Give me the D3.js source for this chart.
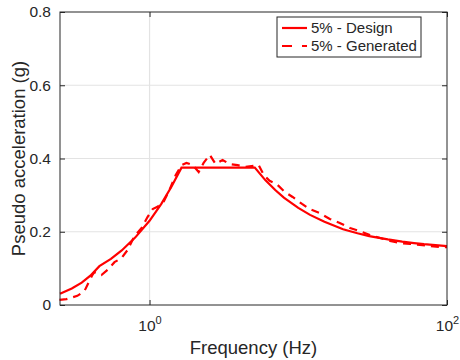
<!DOCTYPE html>
<html lang="en">
<head>
  <meta charset="UTF-8">
  <title>Pseudo acceleration spectrum</title>
  <script src="https://d3js.org/d3.v7.min.js"></script>
  <style>
    body { margin: 0; background: #fff; }
    svg text { font-family: "Liberation Sans", Arial, sans-serif; fill: #262626; }
    .axis .domain { stroke: none; }
    .axis line { stroke: #262626; }
    .axis text { font-size: 15.5px; }
  </style>
</head>
<body>
  <svg id="chart" width="460" height="360"></svg>
  <script>
    // design spectrum (5% damping)
    const designFreq = [0.25, 0.3, 0.35, 0.4, 0.46, 0.55, 0.65, 0.8, 1.0, 1.2, 1.4, 1.64,
                        5.1, 6, 7, 8, 10, 12, 15, 20, 25, 30, 40, 50, 60, 70, 80, 100];
    const designAcc = [0.031, 0.045, 0.061, 0.080, 0.106, 0.126, 0.149, 0.184, 0.230, 0.276, 0.322, 0.375,
                       0.375, 0.341, 0.314, 0.293, 0.265, 0.246, 0.227, 0.207, 0.196, 0.188, 0.179, 0.173, 0.169, 0.166, 0.164, 0.161];

    // spectrum of the generated record
    const genFreq = [0.248, 0.276, 0.327, 0.365, 0.394, 0.413, 0.426, 0.475, 0.522, 0.581, 0.648, 0.711,
                     0.792, 0.884, 0.969, 1.05, 1.13, 1.24, 1.36, 1.50, 1.64, 1.77, 1.95, 2.14, 2.31,
                     2.54, 2.78, 3.10, 3.45, 3.91, 4.43, 5.01, 5.42, 5.86, 6.42, 7.16, 8.10, 9.16,
                     10.6, 11.9, 13.9, 16.3, 19.0, 22.3, 25.9, 30.3, 35.5, 41.4, 48.3, 56.4, 65.8, 76.8, 89.5, 100];
    const genAcc = [0.014, 0.016, 0.025, 0.038, 0.066, 0.082, 0.090, 0.082, 0.096, 0.117, 0.128, 0.150,
                    0.188, 0.210, 0.240, 0.262, 0.268, 0.281, 0.314, 0.355, 0.382, 0.388, 0.382, 0.363, 0.388,
                    0.410, 0.385, 0.396, 0.385, 0.382, 0.377, 0.380, 0.382, 0.355, 0.339, 0.330, 0.309, 0.295,
                    0.276, 0.262, 0.251, 0.235, 0.224, 0.210, 0.202, 0.191, 0.183, 0.175, 0.169, 0.167, 0.164, 0.161, 0.158, 0.158];

    const xTicks = [1, 100];
    const xTickExp = ["0", "2"];
    const yTicks = [0, 0.2, 0.4, 0.6, 0.8];
    const seriesNames = ["5% - Design", "5% - Generated"];

    const svg = d3.select("#chart");
    const margin = {top: 12, right: 13, bottom: 55, left: 60};
    const width = 460, height = 360;
    const x = d3.scaleLog().domain([0.25, 100]).range([margin.left, width - margin.right]);
    const y = d3.scaleLinear().domain([0, 0.8]).range([height - margin.bottom, margin.top]);

    // gridlines
    svg.append("g").selectAll("line").data(yTicks.slice(1, -1)).join("line")
      .attr("x1", x.range()[0]).attr("x2", x.range()[1])
      .attr("y1", d => y(d)).attr("y2", d => y(d))
      .attr("stroke", "#e3e3e3").attr("stroke-width", 1.2);
    svg.append("g").selectAll("line").data(xTicks.slice(0, -1)).join("line")
      .attr("x1", d => x(d)).attr("x2", d => x(d))
      .attr("y1", y.range()[0]).attr("y2", y.range()[1])
      .attr("stroke", "#e3e3e3").attr("stroke-width", 1.2);

    // curves
    const line = d3.line().x(d => x(d[0])).y(d => y(d[1]));
    svg.append("path")
      .datum(designFreq.map((f, i) => [f, designAcc[i]]))
      .attr("fill", "none").attr("stroke", "#ff0000").attr("stroke-width", 2.2)
      .attr("d", line);
    svg.append("path")
      .datum(genFreq.map((f, i) => [f, genAcc[i]]))
      .attr("fill", "none").attr("stroke", "#ff0000").attr("stroke-width", 2.2)
      .attr("stroke-dasharray", "8,6")
      .attr("d", line);

    // axes (ticks inward on all four sides)
    svg.append("g").attr("class", "axis")
      .attr("transform", `translate(${margin.left},0)`)
      .call(d3.axisLeft(y).tickValues(yTicks).tickSize(-5).tickPadding(9).tickFormat(d3.format("")));
    svg.append("g").attr("class", "axis")
      .attr("transform", `translate(${width - margin.right},0)`)
      .call(d3.axisRight(y).tickValues(yTicks).tickSize(-5).tickFormat(""));
    const bottom = svg.append("g").attr("class", "axis")
      .attr("transform", `translate(0,${height - margin.bottom})`)
      .call(d3.axisBottom(x).tickValues(xTicks).tickSize(-5).tickFormat(""));
    svg.append("g").attr("class", "axis")
      .attr("transform", `translate(0,${margin.top})`)
      .call(d3.axisTop(x).tickValues(xTicks).tickSize(-5).tickFormat(""));

    const lbl = bottom.selectAll(".tick").append("text")
      .attr("y", 26).attr("text-anchor", "middle");
    lbl.append("tspan").text("10");
    lbl.append("tspan").attr("dy", -7).attr("font-size", "11px").text((d, i) => xTickExp[i]);

    // frame
    svg.append("rect")
      .attr("x", margin.left).attr("y", margin.top)
      .attr("width", width - margin.left - margin.right)
      .attr("height", height - margin.top - margin.bottom)
      .attr("fill", "none").attr("stroke", "#262626").attr("stroke-width", 1);

    // titles
    svg.append("text")
      .attr("x", (x.range()[0] + x.range()[1]) / 2).attr("y", 354)
      .attr("text-anchor", "middle").style("font-size", "18.5px")
      .text("Frequency (Hz)");
    svg.append("text")
      .attr("transform", `translate(25,${(y.range()[0] + y.range()[1]) / 2}) rotate(-90)`)
      .attr("text-anchor", "middle").style("font-size", "18.5px")
      .text("Pseudo acceleration (g)");

    // legend
    const legend = svg.append("g").attr("transform", "translate(277,17)");
    legend.append("rect").attr("width", 144).attr("height", 40)
      .attr("fill", "#fff").attr("stroke", "#262626").attr("stroke-width", 1);
    seriesNames.forEach((name, i) => {
      legend.append("line")
        .attr("x1", 5).attr("x2", 30).attr("y1", 11 + i * 18).attr("y2", 11 + i * 18)
        .attr("stroke", "#ff0000").attr("stroke-width", 2.2)
        .attr("stroke-dasharray", i === 1 ? "10,10" : null);
      legend.append("text")
        .attr("x", 34).attr("y", 16 + i * 18)
        .style("font-size", "15px")
        .text(name);
    });
  </script>
</body>
</html>
